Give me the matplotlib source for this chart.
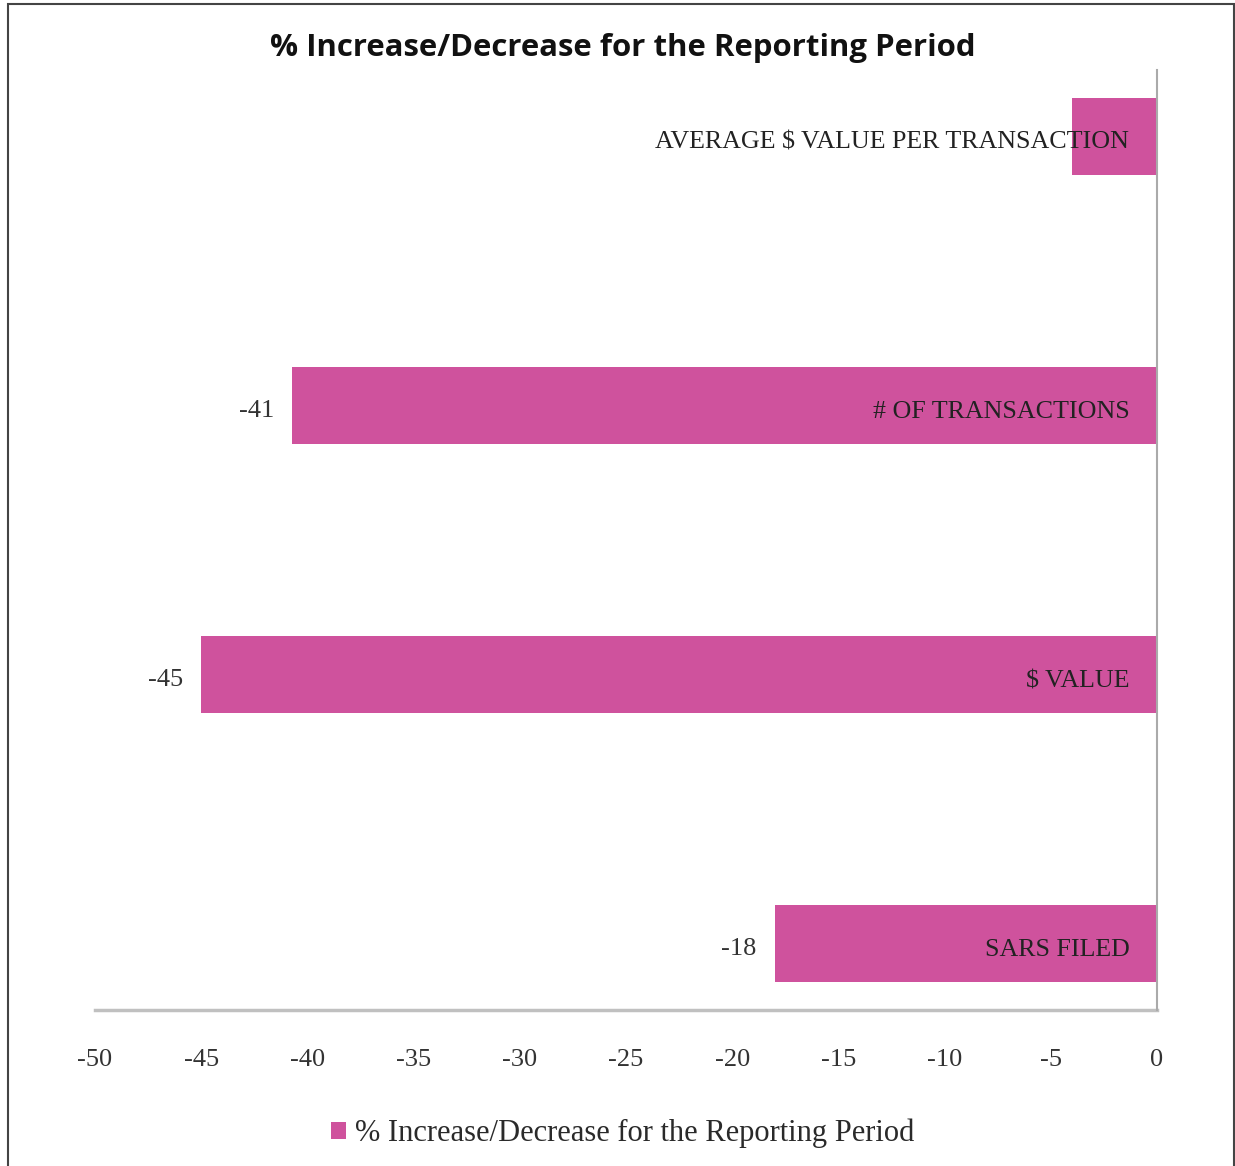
import matplotlib.pyplot as plt
from matplotlib.patches import Rectangle

categories = ['SARS FILED', '$ VALUE', '# OF TRANSACTIONS', 'AVERAGE $ VALUE PER TRANSACTION']
values = [-18, -45, -40.7, -4]
value_labels = ['-18', '-45', '-41', None]
series_name = '% Increase/Decrease for the Reporting Period'
title = '% Increase/Decrease for the Reporting Period'
xticks = [-50, -45, -40, -35, -30, -25, -20, -15, -10, -5, 0]

bar_color = '#CF529D'
serif = ['Liberation Serif', 'DejaVu Serif']

fig = plt.figure(figsize=(12.35, 11.66), dpi=100)
ax = fig.add_axes([0.0769, 0.1338, 0.8599, 0.8062])

ypos = list(range(len(categories)))
bars = ax.barh(ypos, values, height=0.286, color=bar_color, label=series_name, zorder=2)

ax.set_xlim(-50, 0)
ax.set_ylim(-0.247, 3.247)
ax.set_xticks(xticks)
ax.set_xticklabels([str(t) for t in xticks], fontfamily=serif, fontsize=19, color='#333333')
ax.set_yticks([])
ax.tick_params(axis='x', length=0, pad=28)

for s in ['top', 'left']:
    ax.spines[s].set_visible(False)
ax.spines['right'].set_color('#AAAAAA')
ax.spines['right'].set_linewidth(1.5)
ax.spines['bottom'].set_color('#C0C0C0')
ax.spines['bottom'].set_linewidth(2.5)
ax.spines['right'].set_zorder(3)

# category names inside the bars, close to zero
for y, name in zip(ypos, categories):
    ax.text(-1.3, y - 0.015, name, ha='right', va='center_baseline', fontfamily=serif,
            fontsize=18.7, color='#222222', zorder=4)

# value labels left of bar ends
for y, v, lab in zip(ypos, values, value_labels):
    if lab is None:
        continue
    ax.text(v - 0.85, y - 0.012, lab, ha='right', va='center_baseline', fontfamily=serif,
            fontsize=19, color='#333333')

fig.text(0.504, 0.9585, title, ha='center', va='center', fontfamily=['Open Sans', 'DejaVu Sans'],
         fontweight='bold', fontsize=22.4, color='#111111')

leg = fig.legend(handles=[bars], labels=[series_name], loc='center', bbox_to_anchor=(0.504, 0.028),
                 frameon=False, prop={'family': serif, 'size': 22}, handlelength=0.5,
                 handleheight=0.5, handletextpad=0.3)
for t in leg.get_texts():
    t.set_color('#2a2a2a')

fig.add_artist(Rectangle((0.0065, -0.01), 0.9925, 1.0067, transform=fig.transFigure,
                         fill=False, edgecolor='#444444', linewidth=1.5))

fig.savefig('out.png', dpi=100)
